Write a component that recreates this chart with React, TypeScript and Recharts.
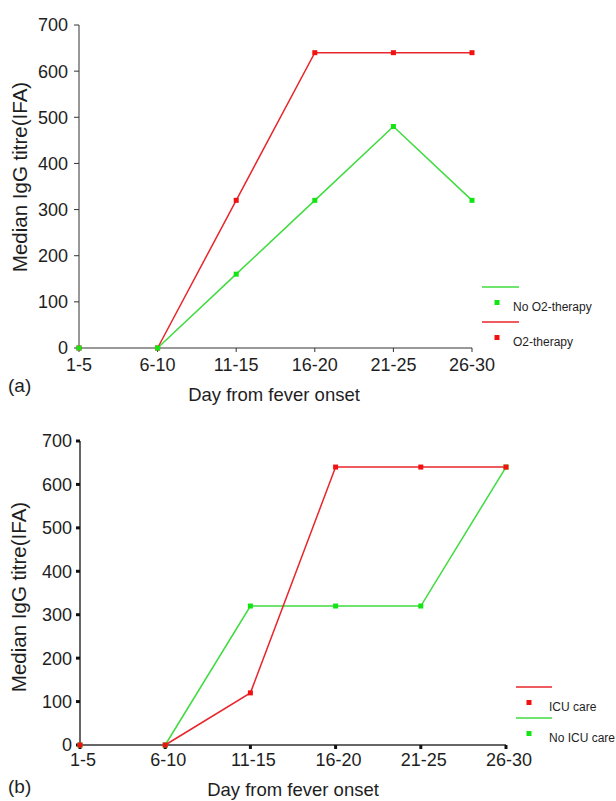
import React from 'react';
import {Legend, Line, LineChart, XAxis, YAxis, Label} from 'recharts';

const days: string[] = ['1-5', '6-10', '11-15', '16-20', '21-25', '26-30'];
const yTicks: number[] = [0, 100, 200, 300, 400, 500, 600, 700];

// panel (a)
const noO2: number[] = [0, 0, 160, 320, 480, 320];
const o2: number[] = [0, 0, 320, 640, 640, 640];
// panel (b)
const icu: number[] = [0, 0, 120, 640, 640, 640];
const noIcu: number[] = [0, 0, 320, 320, 320, 640];

const GREEN = '#3fdc3f';
const RED = '#e8262b';
const GREEN_DOT = '#12e612';
const RED_DOT = '#f21010';
const FONT = '"Liberation Sans", Arial, sans-serif';
const INK = '#1e1e1e';

// first segment lies on the x axis and is hidden under it in the original
const rows = days.map((day, i) => ({
    day,
    noO2: noO2[i], noO2Line: i === 0 ? null : noO2[i],
    o2: o2[i], o2Line: i === 0 ? null : o2[i],
    icu: icu[i], icuLine: i === 0 ? null : icu[i],
    noIcu: noIcu[i], noIcuLine: i === 0 ? null : noIcu[i],
}));

function square(color: string) {
    return (p: any) => {
        if (p.cx == null || p.cy == null || p.value == null) return <g key={`e-${p.index}`}/>;
        return <rect key={`d-${p.index}`} x={p.cx - 2.5} y={p.cy - 2.5} width={5} height={5} fill={color}/>;
    };
}

type Item = { name: string, line: string, dot: string };

function legendBox(items: Item[], g: { x1: number, x2: number, dotX: number, textX: number, gap: number }) {
    return () => (
        <svg width={146} height={80} style={{overflow: 'visible'}}>
            {items.map((it, i) => {
                const y0 = 9 + i * g.gap;
                return (
                    <g key={it.name}>
                        <line x1={g.x1} x2={g.x2} y1={y0} y2={y0} stroke={it.line} strokeWidth={1.5}/>
                        <rect x={g.dotX - 2.5} y={y0 + 13} width={5} height={5} fill={it.dot}/>
                        <text x={g.textX} y={y0 + 24} fontSize={12} fontFamily={FONT} fill={INK}>{it.name}</text>
                    </g>
                );
            })}
        </svg>
    );
}

function YTitle({x, y}: { x: number, y: number }) {
    return (
        <text x={x} y={y} transform={`rotate(-90, ${x}, ${y})`} textAnchor="middle"
              fontSize={20.5} fontFamily={FONT} fill={INK}>Median IgG titre(IFA)</text>
    );
}

function XTitle({tag, tagY, y, cx}: { tag: string, tagY: number, y: number, cx: number }) {
    return (
        <g>
            <text x={8} y={tagY} fontSize={19} fontFamily={FONT} fill={INK}>{tag}</text>
            <text x={cx} y={y} textAnchor="middle" fontSize={18.5} fontFamily={FONT} fill={INK}>Day from fever onset</text>
        </g>
    );
}

const tickStyle = {fontSize: 18, fontFamily: FONT, fill: INK};

export default function App(): React.JSX.Element {
    return (
        <div style={{position: 'absolute', left: 0, top: 0, width: 616, height: 801, background: '#fff'}}>
            <div style={{position: 'absolute', left: 0, top: 0}}>
                <LineChart width={616} height={410} data={rows}
                           margin={{top: 25, right: 144, left: 0, bottom: 0}}>
                    <XAxis dataKey="day" scale="point" padding={{left: 0, right: 0}} height={62}
                           tick={tickStyle} tickSize={4} tickMargin={6}
                           axisLine={{stroke: '#333'}} tickLine={{stroke: '#333'}}>
                        <Label content={() => <XTitle tag="(a)" tagY={392} y={401} cx={274}/>}/>
                    </XAxis>
                    <YAxis domain={[0, 700]} ticks={yTicks} width={79} interval={0}
                           tick={tickStyle} tickSize={5} tickMargin={6}
                           axisLine={{stroke: '#333'}} tickLine={{stroke: '#333'}}>
                        <Label content={() => <YTitle x={27} y={177}/>}/>
                    </YAxis>
                    <Line dataKey="o2Line" stroke={RED} strokeWidth={1.5} dot={false} isAnimationActive={false}/>
                    <Line dataKey="o2" stroke="none" dot={square(RED_DOT)} activeDot={false} isAnimationActive={false}/>
                    <Line dataKey="noO2Line" stroke={GREEN} strokeWidth={1.5} dot={false} isAnimationActive={false}/>
                    <Line dataKey="noO2" stroke="none" dot={square(GREEN_DOT)} activeDot={false} isAnimationActive={false}/>
                    <Legend layout="horizontal" verticalAlign="middle" align="center"
                            wrapperStyle={{left: 470, top: 278, width: 146, height: 80}}
                            content={legendBox(
                                [{name: 'No O2-therapy', line: GREEN, dot: GREEN_DOT},
                                    {name: 'O2-therapy', line: RED, dot: RED_DOT}],
                                {x1: 12, x2: 49, dotX: 27, textX: 43, gap: 35})}/>
                </LineChart>
            </div>
            <div style={{position: 'absolute', left: 0, top: 400}}>
                <LineChart width={616} height={401} data={rows}
                           margin={{top: 41, right: 110, left: 0, bottom: 0}}>
                    <XAxis dataKey="day" scale="point" padding={{left: 0, right: 0}} height={56}
                           tick={{...tickStyle, dx: 3}} tickSize={4} tickMargin={4}
                           axisLine={{stroke: '#333', strokeWidth: 1.5}} tickLine={{stroke: '#111', strokeWidth: 3}}>
                        <Label content={() => <XTitle tag="(b)" tagY={393} y={396} cx={293}/>}/>
                    </XAxis>
                    <YAxis domain={[0, 700]} ticks={yTicks} width={80} interval={0}
                           tick={tickStyle} tickSize={4} tickMargin={4}
                           axisLine={{stroke: '#333', strokeWidth: 1.5}} tickLine={{stroke: '#111', strokeWidth: 3}}>
                        <Label content={() => <YTitle x={26} y={197}/>}/>
                    </YAxis>
                    <Line dataKey="noIcuLine" stroke={GREEN} strokeWidth={1.5} dot={false} isAnimationActive={false}/>
                    <Line dataKey="noIcu" stroke="none" dot={square(GREEN_DOT)} activeDot={false} isAnimationActive={false}/>
                    <Line dataKey="icuLine" stroke={RED} strokeWidth={1.5} dot={false} isAnimationActive={false}/>
                    <Line dataKey="icu" stroke="none" dot={square(RED_DOT)} activeDot={false} isAnimationActive={false}/>
                    <Legend layout="horizontal" verticalAlign="middle" align="center"
                            wrapperStyle={{left: 505, top: 278, width: 111, height: 80}}
                            content={legendBox(
                                [{name: 'ICU care', line: RED, dot: RED_DOT},
                                    {name: 'No ICU care', line: GREEN, dot: GREEN_DOT}],
                                {x1: 11, x2: 47, dotX: 24, textX: 44, gap: 31})}/>
                </LineChart>
            </div>
        </div>
    );
}
